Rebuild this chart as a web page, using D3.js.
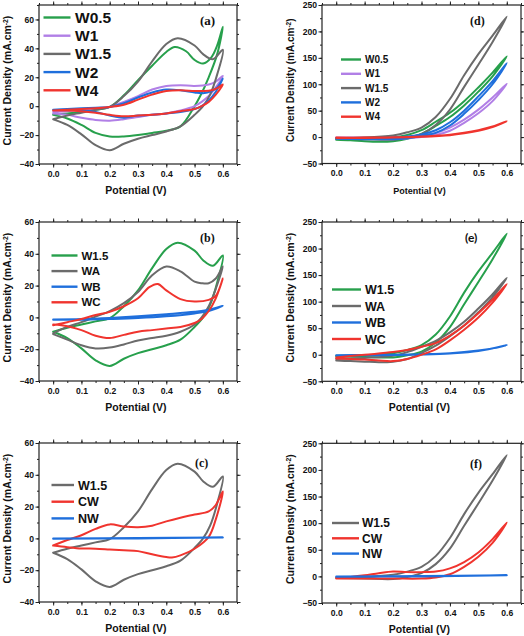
<!DOCTYPE html>
<html><head><meta charset="utf-8">
<script src="https://cdn.jsdelivr.net/npm/d3@7"></script>
<style>body{margin:0;background:#fff}svg{display:block}</style>
</head><body><svg id="c" width="524" height="636"></svg>
<script>
// ---------- tick labels ----------
const potentialTicks = [0, 0.1, 0.2, 0.3, 0.4, 0.5, 0.6];
const cvTicks = [-40, -20, 0, 20, 40, 60];
const lsvTicks = [-50, 0, 50, 100, 150, 200, 250];

// ---------- CV series: [potential V, current density mA/cm2], forward then reverse ----------
const cvW1_5 = [[0,-9],[0.05,-6.5],[0.1,-4.5],[0.15,-2.5],[0.2,-0.5],[0.25,7],[0.3,17],[0.35,31],[0.4,43],[0.44,47],[0.5,42],[0.53,36],[0.565,32.5],[0.6,39],
  [0.58,22],[0.555,8],[0.53,0],[0.5,-6],[0.45,-14],[0.4,-17.5],[0.35,-20],[0.3,-22.5],[0.25,-26],[0.2,-30.5],[0.15,-27],[0.1,-19.5],[0.05,-13],[0,-9]];
const cvW0_5 = [[0,-6],[0.05,-5],[0.1,-4],[0.15,-2.5],[0.2,-0.5],[0.25,7.5],[0.3,18],[0.35,28],[0.4,37.5],[0.43,41],[0.47,38],[0.5,32],[0.53,29.5],[0.56,34],[0.58,42],[0.6,55],
  [0.58,36],[0.55,20],[0.52,7],[0.5,0],[0.45,-14],[0.4,-17],[0.35,-18.5],[0.3,-20],[0.25,-21],[0.2,-21],[0.15,-18.5],[0.1,-13],[0.05,-8.5],[0,-6]];
const cvW1 = [[0,-4],[0.05,-3.5],[0.1,-2.5],[0.15,-1.5],[0.2,-0.5],[0.25,3],[0.3,7],[0.35,11.5],[0.4,14],[0.45,14.5],[0.5,14],[0.55,15],[0.575,17],[0.6,21],
  [0.575,13],[0.55,7],[0.525,3],[0.5,0],[0.45,-3],[0.4,-5],[0.35,-6],[0.3,-7.5],[0.25,-9],[0.2,-10],[0.15,-9.5],[0.1,-8],[0.05,-6],[0,-5]];
const cvW2 = [[0,-2.5],[0.05,-2],[0.1,-1.5],[0.15,-1],[0.2,-0.5],[0.25,2],[0.3,6],[0.35,9.5],[0.4,11.5],[0.45,11],[0.5,9.5],[0.53,9],[0.56,10.5],[0.58,13],[0.6,19],
  [0.575,10],[0.55,4],[0.525,0],[0.5,-2],[0.45,-4],[0.4,-5],[0.35,-6],[0.3,-6.5],[0.25,-8],[0.2,-6.5],[0.15,-4],[0.1,-3],[0.05,-2.5],[0,-2.5]];
const cvW4 = [[0,-3],[0.05,-2.5],[0.1,-2],[0.15,-1.5],[0.2,-0.5],[0.25,1],[0.3,4.5],[0.35,8],[0.4,10.5],[0.45,11],[0.5,10.5],[0.53,10.5],[0.56,11],[0.58,12.5],[0.6,15],
  [0.575,8],[0.55,3],[0.525,0],[0.5,-2],[0.45,-3.5],[0.4,-5],[0.35,-6],[0.3,-6.5],[0.25,-7],[0.2,-6],[0.15,-4.5],[0.1,-3.5],[0.05,-3],[0,-3]];
const cvWA = [[0,-10],[0.05,-6],[0.1,-3],[0.15,0.5],[0.2,4],[0.25,9],[0.3,16],[0.35,26.5],[0.4,32],[0.45,29],[0.5,22.5],[0.525,21.5],[0.55,21.5],[0.575,24.5],[0.6,32],
  [0.575,18],[0.55,7],[0.525,0],[0.5,-4.5],[0.45,-9],[0.4,-11.5],[0.35,-13],[0.3,-14.5],[0.25,-17],[0.2,-19],[0.15,-19.5],[0.1,-17.5],[0.05,-14],[0,-10.5]];
const cvWB = [[0,-1.3],[0.1,-1],[0.2,-0.3],[0.3,0.7],[0.4,2],[0.5,3.5],[0.55,4.8],[0.6,7.3],
  [0.55,4],[0.5,2.5],[0.4,0.7],[0.3,-0.4],[0.2,-1],[0.1,-1.4],[0,-1.5]];
const cvWC = [[0,-5],[0.05,-3],[0.1,-1],[0.15,1.5],[0.2,3.5],[0.25,7],[0.3,12],[0.34,19],[0.37,21],[0.4,17],[0.45,11.5],[0.5,10],[0.55,11],[0.575,13.5],[0.6,24.5],
  [0.575,12],[0.55,4],[0.525,-1],[0.5,-3.5],[0.45,-6],[0.4,-7],[0.35,-8],[0.3,-9],[0.25,-11],[0.2,-13],[0.15,-11.5],[0.1,-8],[0.05,-5.5],[0,-4.5]];
const cvCW = [[0,-4.4],[0.05,-1],[0.1,2],[0.15,6],[0.2,8.8],[0.25,7.5],[0.3,7],[0.35,8],[0.4,10.7],[0.45,13],[0.5,15],[0.55,17],[0.575,21],[0.6,29.5],
  [0.575,12],[0.55,1],[0.5,-6.5],[0.45,-10.7],[0.42,-12],[0.4,-11.7],[0.35,-10],[0.3,-8],[0.25,-7.5],[0.2,-7],[0.15,-6.5],[0.1,-6.3],[0.05,-5.5],[0,-4.5]];
const cvNW = [[0,0],[0.3,0.2],[0.6,0.6],[0.3,0],[0,-0.2]];

// ---------- LSV-type loops (panels d-f) ----------
const lsW1_5 = [[0,-3],[0.1,-4],[0.2,-5],[0.25,-1],[0.3,6],[0.35,23],[0.4,52],[0.45,95],[0.5,137],[0.55,180],[0.6,228],
  [0.55,192],[0.5,157],[0.45,117],[0.4,72],[0.35,38],[0.3,18],[0.25,9],[0.2,3],[0.1,-1],[0,-2]];
const lsW0_5 = [[0,-4],[0.1,-3],[0.2,-1],[0.25,4],[0.3,13],[0.35,29],[0.4,46],[0.45,68],[0.5,94],[0.55,122],[0.6,153],
  [0.55,115],[0.5,86],[0.45,60],[0.4,38],[0.35,21],[0.3,6],[0.25,-3],[0.2,-8],[0.15,-9],[0.1,-8],[0.05,-6],[0,-5]];
const lsW1 = [[0,-1],[0.1,-1],[0.2,-1],[0.3,3],[0.35,8],[0.4,18],[0.45,33],[0.5,52],[0.55,75],[0.6,101],
  [0.55,68],[0.5,45],[0.45,27],[0.4,12],[0.35,4],[0.3,0],[0.2,-4],[0.1,-3],[0,-2]];
const lsW2 = [[0,-2],[0.1,-2],[0.2,-1],[0.25,1],[0.3,5],[0.35,13],[0.4,28],[0.45,50],[0.5,77],[0.55,106],[0.6,140],
  [0.55,100],[0.5,70],[0.45,44],[0.4,22],[0.35,8],[0.3,2],[0.25,-2],[0.2,-4],[0.1,-4],[0,-3]];
const lsW4 = [[0,-1],[0.1,-1],[0.2,-0.5],[0.3,1],[0.35,2.5],[0.4,4.5],[0.45,8],[0.5,13],[0.55,20],[0.6,30],
  [0.55,19],[0.5,12],[0.45,7],[0.4,3.5],[0.3,0.5],[0.2,-1],[0.1,-1.5],[0,-1.5]];
const lsWA = [[0,-8],[0.1,-6],[0.2,-2],[0.25,5],[0.3,15],[0.35,26],[0.4,42],[0.45,62],[0.5,87],[0.55,114],[0.6,145],
  [0.55,108],[0.5,80],[0.45,55],[0.4,35],[0.35,17],[0.3,3],[0.25,-8],[0.2,-13],[0.15,-14],[0.1,-13],[0.05,-12],[0,-11]];
const lsWB = [[0,-1],[0.1,-0.5],[0.2,0],[0.3,1],[0.4,3],[0.5,8],[0.55,12],[0.6,18],
  [0.5,7],[0.4,2.5],[0.3,0.5],[0.2,-0.5],[0.1,-1],[0,-1.5]];
const lsWC = [[0,-5],[0.1,0],[0.2,5],[0.25,9],[0.3,15],[0.35,22],[0.4,36],[0.45,55],[0.5,78],[0.55,104],[0.6,133],
  [0.55,98],[0.5,70],[0.45,47],[0.4,27],[0.35,10],[0.3,0],[0.25,-8],[0.2,-12],[0.15,-11],[0.1,-9],[0.05,-8],[0,-7]];
const lsCW = [[0,-3],[0.05,-1],[0.1,2],[0.15,6],[0.2,9],[0.25,8],[0.3,8],[0.35,9],[0.4,15],[0.45,27],[0.5,45],[0.55,70],[0.6,101],
  [0.55,63],[0.5,37],[0.45,18],[0.4,4],[0.35,-2],[0.3,-4],[0.2,-4],[0.1,-4],[0,-4]];
const lsNW = [[0,0],[0.3,0.5],[0.6,2],[0.3,0],[0,-0.5]];

// ---------- colours ----------
const GREEN = "#27a04c", PURPLE = "#b17fe6", GRAY = "#6b6b6b", BLUE = "#1f6fdc", RED = "#f0342e";

const panels = [
  {label:"(a)", box:[39,5,237,164], yDom:[-40,70], yTicks:cvTicks, yMinor:10,
   series:[["W0.5",cvW0_5,GREEN],["W1",cvW1,PURPLE],["W1.5",cvW1_5,GRAY],["W2",cvW2,BLUE],["W4",cvW4,RED]],
   leg:{x1:43.5,x2:70.5,tx:75,y0:17.5,dy:18.2,fs:15.5}, lab:{x:200,y:25,f:"Liberation Serif",fs:13}, xfs:10.5, yfs:10.5},
  {label:"(b)", box:[39,222,237,381], yDom:[-40,60], yTicks:cvTicks, yMinor:10,
   series:[["W1.5",cvW1_5,GREEN],["WA",cvWA,GRAY],["WB",cvWB,BLUE],["WC",cvWC,RED]],
   leg:{x1:51.5,x2:77.5,tx:81.5,y0:255.5,dy:15.6,fs:11.5}, lab:{x:200,y:242,f:"Liberation Serif",fs:12}, xfs:10.5, yfs:10.5},
  {label:"(c)", box:[39,443,237,602], yDom:[-40,60], yTicks:cvTicks, yMinor:10,
   series:[["W1.5",cvW1_5,GRAY],["CW",cvCW,RED],["NW",cvNW,BLUE]],
   leg:{x1:51.5,x2:74,tx:78,y0:485,dy:16.7,fs:12.5}, lab:{x:195,y:467,f:"Liberation Serif",fs:12}, xfs:10.5, yfs:10.5},
  {label:"(d)", box:[322,5,521,163.5], yDom:[-50,250], yTicks:lsvTicks, yMinor:25,
   series:[["W0.5",lsW0_5,GREEN],["W1",lsW1,PURPLE],["W1.5",lsW1_5,GRAY],["W2",lsW2,BLUE],["W4",lsW4,RED]],
   leg:{x1:341,x2:361,tx:365,y0:59.5,dy:14.3,fs:10}, lab:{x:470,y:25,f:"Liberation Serif",fs:12}, xfs:9, yfs:10},
  {label:"(e)", box:[322,222,521,381.3], yDom:[-50,250], yTicks:lsvTicks, yMinor:25,
   series:[["W1.5",lsW1_5,GREEN],["WA",lsWA,GRAY],["WB",lsWB,BLUE],["WC",lsWC,RED]],
   leg:{x1:332,x2:361,tx:365,y0:289.5,dy:16.5,fs:12.5}, lab:{x:465,y:242,f:"Lato",fs:12}, xfs:10.5, yfs:10.5},
  {label:"(f)", box:[322,443.3,521,603], yDom:[-50,250], yTicks:lsvTicks, yMinor:25,
   series:[["W1.5",lsW1_5,GRAY],["CW",lsCW,RED],["NW",lsNW,BLUE]],
   leg:{x1:332,x2:359,tx:362,y0:523,dy:15.3,fs:12}, lab:{x:470,y:468,f:"Liberation Serif",fs:12}, xfs:10.5, yfs:10.5}
];

const svg = d3.select("#c");
const SANS = "'Liberation Sans', Arial, sans-serif";
const xMinorTicks = d3.range(-0.05, 0.651, 0.05).map(v => +v.toFixed(2));

panels.forEach(p => {
  const [x0, y0, x1, y1] = p.box;
  const x = d3.scaleLinear().domain([-0.05, 0.65]).range([x0, x1]);
  const y = d3.scaleLinear().domain(p.yDom).range([y1, y0]);
  const g = svg.append("g");
  const yMinors = d3.range(p.yDom[0], p.yDom[1] + 0.001, p.yMinor);

  const styleAxis = (sel) => {
    sel.select(".domain").remove();
    sel.selectAll("line").attr("stroke", "#222").attr("stroke-width", 1);
    sel.selectAll("text").attr("font-family", SANS).attr("font-weight", "bold").attr("font-size", 8.6).attr("fill", "#111");
  };
  // bottom
  g.append("g").attr("transform", `translate(0,${y1})`)
    .call(d3.axisBottom(x).tickValues(xMinorTicks).tickSize(2).tickFormat("")).call(styleAxis);
  g.append("g").attr("transform", `translate(0,${y1})`)
    .call(d3.axisBottom(x).tickValues(potentialTicks).tickSize(3.5).tickPadding(3).tickFormat(d3.format(".1f"))).call(styleAxis);
  // top
  g.append("g").attr("transform", `translate(0,${y0})`)
    .call(d3.axisTop(x).tickValues(xMinorTicks).tickSize(2).tickFormat("")).call(styleAxis);
  g.append("g").attr("transform", `translate(0,${y0})`)
    .call(d3.axisTop(x).tickValues(potentialTicks).tickSize(3.5).tickFormat("")).call(styleAxis);
  // left
  g.append("g").attr("transform", `translate(${x0},0)`)
    .call(d3.axisLeft(y).tickValues(yMinors).tickSize(2).tickFormat("")).call(styleAxis);
  g.append("g").attr("transform", `translate(${x0},0)`)
    .call(d3.axisLeft(y).tickValues(p.yTicks).tickSize(3.5).tickPadding(1.5).tickFormat(d3.format("d"))).call(styleAxis);
  // right
  g.append("g").attr("transform", `translate(${x1},0)`)
    .call(d3.axisRight(y).tickValues(yMinors).tickSize(2).tickFormat("")).call(styleAxis);
  g.append("g").attr("transform", `translate(${x1},0)`)
    .call(d3.axisRight(y).tickValues(p.yTicks).tickSize(3.5).tickFormat("")).call(styleAxis);

  // data
  const clipId = "clip" + p.label.replace(/\W/g, "");
  svg.append("clipPath").attr("id", clipId).append("rect")
    .attr("x", x0).attr("y", y0).attr("width", x1 - x0).attr("height", y1 - y0);
  const line = d3.line().x(d => x(d[0])).y(d => y(d[1])).curve(d3.curveCatmullRom.alpha(0.5));
  const dg = g.append("g").attr("clip-path", `url(#${clipId})`);
  p.series.forEach(s => {
    dg.append("path").attr("d", line(s[1])).attr("fill", "none").attr("stroke", s[2])
      .attr("stroke-width", 2).attr("stroke-linejoin", "round").attr("stroke-linecap", "round");
  });

  // frame
  g.append("rect").attr("x", x0).attr("y", y0).attr("width", x1 - x0).attr("height", y1 - y0)
    .attr("fill", "none").attr("stroke", "#222").attr("stroke-width", 1.2);

  // legend
  p.series.forEach((s, i) => {
    const ly = p.leg.y0 + i * p.leg.dy;
    g.append("line").attr("x1", p.leg.x1).attr("x2", p.leg.x2).attr("y1", ly).attr("y2", ly)
      .attr("stroke", s[2]).attr("stroke-width", 2.4);
    g.append("text").attr("x", p.leg.tx).attr("y", ly).attr("dy", "0.36em")
      .attr("font-family", SANS).attr("font-weight", "bold").attr("font-size", p.leg.fs).attr("fill", "#111").text(s[0]);
  });

  // panel label
  g.append("text").attr("x", p.lab.x).attr("y", p.lab.y).attr("font-family", p.lab.f)
    .attr("font-weight", "bold").attr("font-size", p.lab.fs).attr("fill", "#111").text(p.label);

  // axis titles
  g.append("text").attr("x", (x0 + x1) / 2 - 2).attr("y", y1 + 30).attr("text-anchor", "middle")
    .attr("font-family", SANS).attr("font-weight", "bold").attr("font-size", p.xfs).attr("fill", "#111").text("Potential (V)");
  const yt = g.append("text").attr("transform", `translate(${x0 - 28},${(y0 + y1) / 2 - 4}) rotate(-90)`)
    .attr("text-anchor", "middle").attr("font-family", SANS).attr("font-weight", "bold")
    .attr("font-size", p.yfs).attr("fill", "#111");
  yt.append("tspan").text("Current Density (mA.cm");
  yt.append("tspan").attr("baseline-shift", "super").attr("font-size", p.yfs * 0.65).text("-2");
  yt.append("tspan").text(")");
});
</script>
</body></html>
